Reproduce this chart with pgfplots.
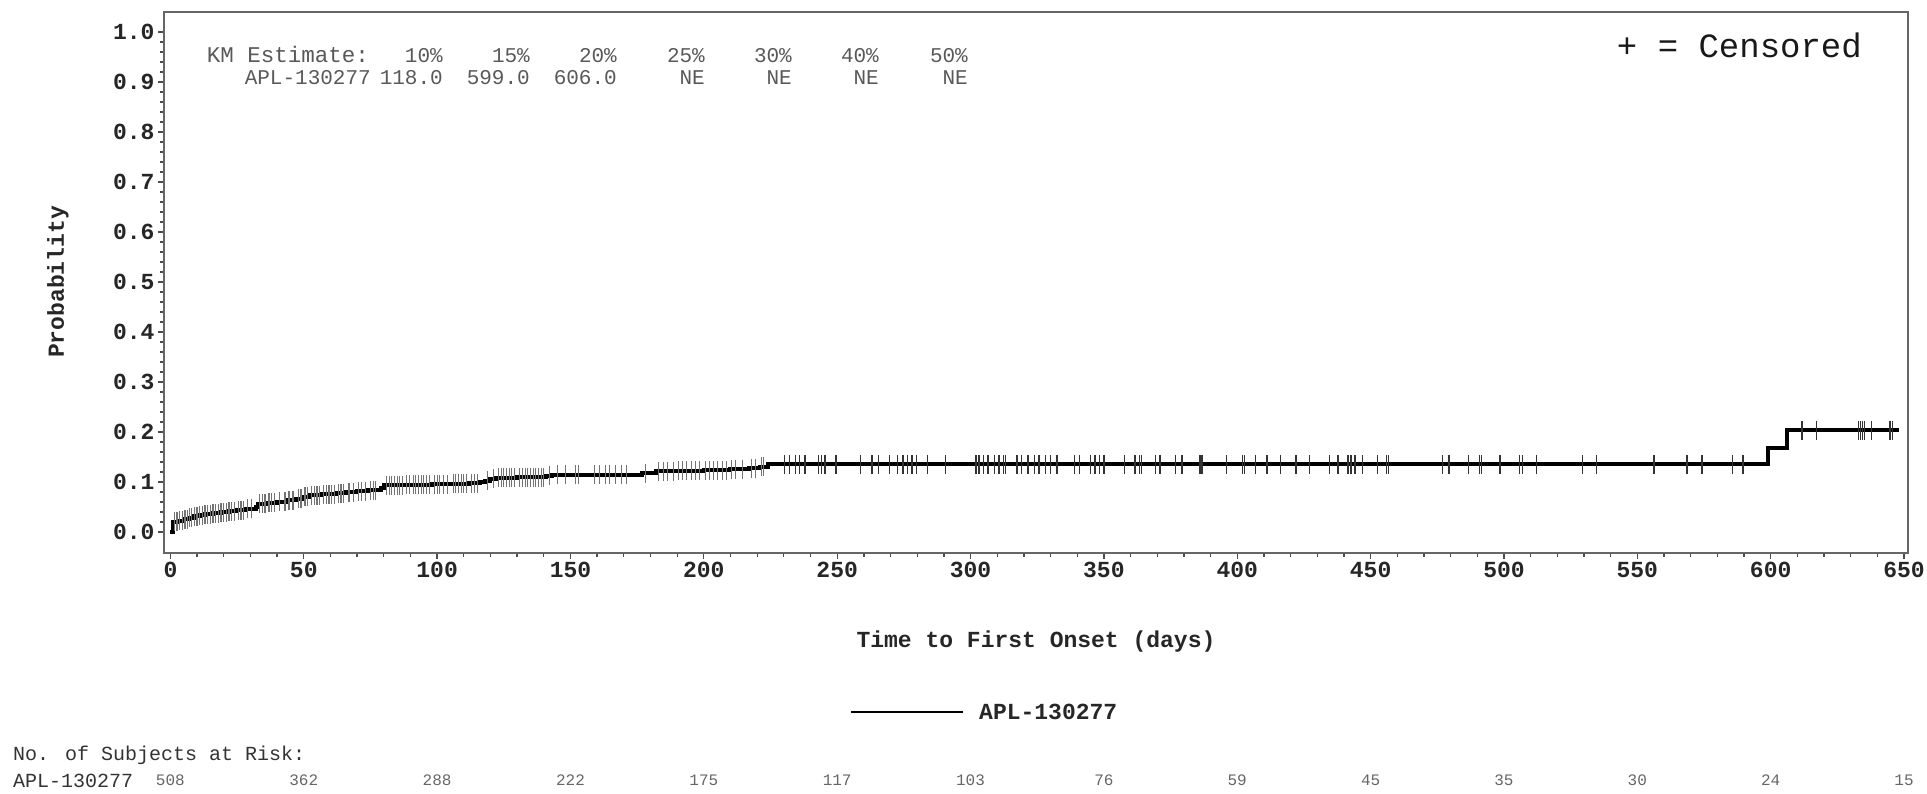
\documentclass[border=0pt]{standalone}
\usepackage{pgfplots}
\pgfplotsset{compat=1.18}
\usepackage{fontspec}
\setmainfont{Liberation Mono}
\newcommand{\fs}[1]{\fontsize{#1}{#1}\selectfont}

\begin{document}
\begin{tikzpicture}
\begin{axis}[
  at={(164pt,241pt)}, anchor=south west,
  scale only axis, width=1744pt, height=541pt,
  xmin=-2.4, xmax=651.5, ymin=-0.042, ymax=1.04,
  clip=false,
  axis line style={draw=black!60, line width=1.5pt},
  xtick={0,50,100,150,200,250,300,350,400,450,500,550,600,650},
  ytick={0,0.1,0.2,0.3,0.4,0.5,0.6,0.7,0.8,0.9,1.0},
  minor x tick num=4, minor y tick num=4,
  xtick pos=bottom, ytick pos=left,
  tick align=outside,
  major tick length=6pt, minor tick length=4pt,
  every tick/.style={draw=black!70, line width=1.3pt},
  /pgf/number format/assume math mode=true,
  yticklabel style={/pgf/number format/.cd, fixed, fixed zerofill, precision=1},
  tick label style={font=\fs{23}\bfseries, text=black!85},
  every node near coord/.append style={anchor=center, font=\fs{16}, text=black!60},
]
% Kaplan-Meier cumulative incidence (step)
\addplot[const plot, line width=4pt, black] table {
t F
0 0
1 0.020
3 0.022
5 0.025
7 0.028
9 0.031
11 0.033
13 0.035
16 0.037
19 0.039
22 0.041
25 0.043
28 0.046
32 0.050
33 0.056
36 0.058
40 0.060
44 0.063
47 0.066
50 0.070
52 0.073
57 0.075
62 0.077
66 0.079
70 0.081
74 0.083
79 0.088
80 0.093
88 0.094
98 0.095
105 0.096
112 0.097
116 0.099
118 0.102
120 0.106
122 0.108
130 0.109
141 0.112
143 0.114
177 0.117
182 0.121
190 0.122
200 0.123
210 0.125
217 0.127
221 0.130
224 0.135
599 0.168
606 0.203
648 0.203
};
% censored (early, dense)
\addplot[only marks, mark=|, mark size=9.5pt, mark options={draw=black!55, line width=1.2pt}] table {
t F
1.5 .020
2.5 .020
3.5 .022
4.5 .022
5.5 .025
6.5 .025
7.2 .028
8 .028
9 .031
10 .031
11 .033
12 .033
13 .035
14 .035
15 .035
16 .037
17 .037
18 .037
19 .039
20 .039
21 .039
22 .041
23 .041
24 .041
25.5 .043
26.5 .043
27.5 .043
29 .046
30.5 .046
33.5 .056
34.5 .056
35.5 .056
37 .058
38 .058
39 .058
41 .060
43 .060
44.5 .063
46 .063
48 .066
49 .066
50.5 .070
51.5 .070
53 .073
54 .073
55 .073
56 .073
57.5 .075
58.5 .075
59.5 .075
60.5 .075
61.5 .075
63 .077
64 .077
65 .077
67 .079
68.5 .079
70.5 .081
71.5 .081
73 .081
75 .083
76 .083
77 .083
81 .093
82 .093
83 .093
84 .093
85 .093
86 .093
87 .093
88.5 .094
89.5 .094
91 .094
92 .094
93 .094
94 .094
95 .094
96 .094
97 .094
99 .095
100 .095
101 .095
102.5 .095
104 .095
106 .096
107 .096
108 .096
109 .096
110 .096
111 .096
113 .097
114 .097
115 .097
119 .102
121 .106
123 .108
124 .108
125 .108
126 .108
127 .108
128 .108
129 .108
131 .109
132 .109
133 .109
134 .109
135 .109
136 .109
137 .109
138 .109
139 .109
140 .109
142 .112
145 .114
148 .114
152 .114
153 .114
159 .114
161 .114
163 .114
164.5 .114
167 .114
169 .114
171 .114
178 .117
183 .121
185 .121
186.5 .121
188.5 .121
190.5 .122
192 .122
193.5 .122
195.5 .122
197 .122
198.5 .122
200.5 .123
202 .123
203.5 .123
205 .123
207 .123
208.5 .123
210.5 .125
212 .125
214.5 .125
218 .127
219.5 .127
221.5 .130
222.5 .130
};
% censored (later)
\addplot[only marks, mark=|, mark size=9.5pt, mark options={draw=black!80, line width=1.3pt}] table {
t F
230.3 .135
232 .135
234.5 .135
235.8 .135
237.9 .135
242.9 .135
244 .135
245.4 .135
249.6 .135
258.8 .135
263 .135
265.5 .135
269.7 .135
272.7 .135
274.7 .135
276.4 .135
278 .135
279.7 .135
283.9 .135
290.6 .135
302 .135
303.2 .135
304.8 .135
306.5 .135
309 .135
310.7 .135
312.4 .135
313.2 .135
317.4 .135
319 .135
321.6 .135
324.1 .135
325.7 .135
328.2 .135
329.9 .135
332.4 .135
339.1 .135
340.8 .135
345 .135
346.7 .135
348.3 .135
350 .135
357.6 .135
361.7 .135
363.4 .135
364.2 .135
369.3 .135
371 .135
376.8 .135
379.3 .135
386 .135
386.8 .135
396 .135
401.9 .135
402.7 .135
406.9 .135
411.1 .135
416.1 .135
422 .135
427.2 .135
434.5 .135
437.8 .135
441.5 .135
442.6 .135
444.2 .135
447 .135
452.6 .135
456 .135
456.7 .135
476.9 .135
479.4 .135
486.7 .135
490.9 .135
491.5 .135
498.5 .135
505.8 .135
506.9 .135
512.2 .135
529.5 .135
534.6 .135
556.3 .135
568.6 .135
574.2 .135
585.6 .135
589.6 .135
611.8 .203
617.2 .203
632.9 .203
633.7 .203
634.5 .203
635.3 .203
637.7 .203
644.7 .203
645.8 .203
};
% number at risk
\addplot[draw=none, mark=none, nodes near coords, point meta=explicit symbolic] table[meta=n] {
t y n
0 -0.496 508
50 -0.496 362
100 -0.496 288
150 -0.496 222
200 -0.496 175
250 -0.496 117
300 -0.496 103
350 -0.496 76
400 -0.496 59
450 -0.496 45
500 -0.496 35
550 -0.496 30
600 -0.496 24
650 -0.496 15
};
\end{axis}

% y label
\node[rotate=90, font=\fs{23}\bfseries, text=black!85] at (58pt,512pt) {Probability};
% x label
\node[font=\fs{23}\bfseries, text=black!85] at (1036pt,152pt) {Time to First Onset (days)};
% KM estimate table
\begin{scope}[every node/.style={anchor=base east, font=\fs{21}, text=black!65, inner sep=0pt}]
\node[font=\fs{22.5}] at (369pt,731pt) {KM Estimate:};
\node at (371pt,709pt) {APL-130277};
\node at (443pt,731pt) {10\%};  \node at (443pt,709pt) {118.0};
\node at (530pt,731pt) {15\%};  \node at (530pt,709pt) {599.0};
\node at (617pt,731pt) {20\%};  \node at (617pt,709pt) {606.0};
\node at (705pt,731pt) {25\%};  \node at (705pt,709pt) {NE};
\node at (792pt,731pt) {30\%};  \node at (792pt,709pt) {NE};
\node at (879pt,731pt) {40\%};  \node at (879pt,709pt) {NE};
\node at (968pt,731pt) {50\%};  \node at (968pt,709pt) {NE};
\end{scope}
% censored note
\node[anchor=base east, font=\fs{34}, inner sep=0pt, text=black!90] at (1862pt,736pt) {+ = Censored};
% legend
\draw[black, line width=2.5pt] (851pt,82pt) -- (963pt,82pt);
\node[anchor=west, font=\fs{23}\bfseries, inner sep=0pt, text=black!85] at (979pt,82pt) {APL-130277};
% risk table header
\node[anchor=west, font=\fs{20}, inner sep=0pt, text=black!80] at (13pt,39pt) {No. of Subjects at Risk:};
\node[anchor=west, font=\fs{20}, inner sep=0pt, text=black!80] at (13pt,13pt) {APL-130277};

\pgfresetboundingbox
\path (0pt,0pt) rectangle (1927pt,794pt);
\end{tikzpicture}
\end{document}
